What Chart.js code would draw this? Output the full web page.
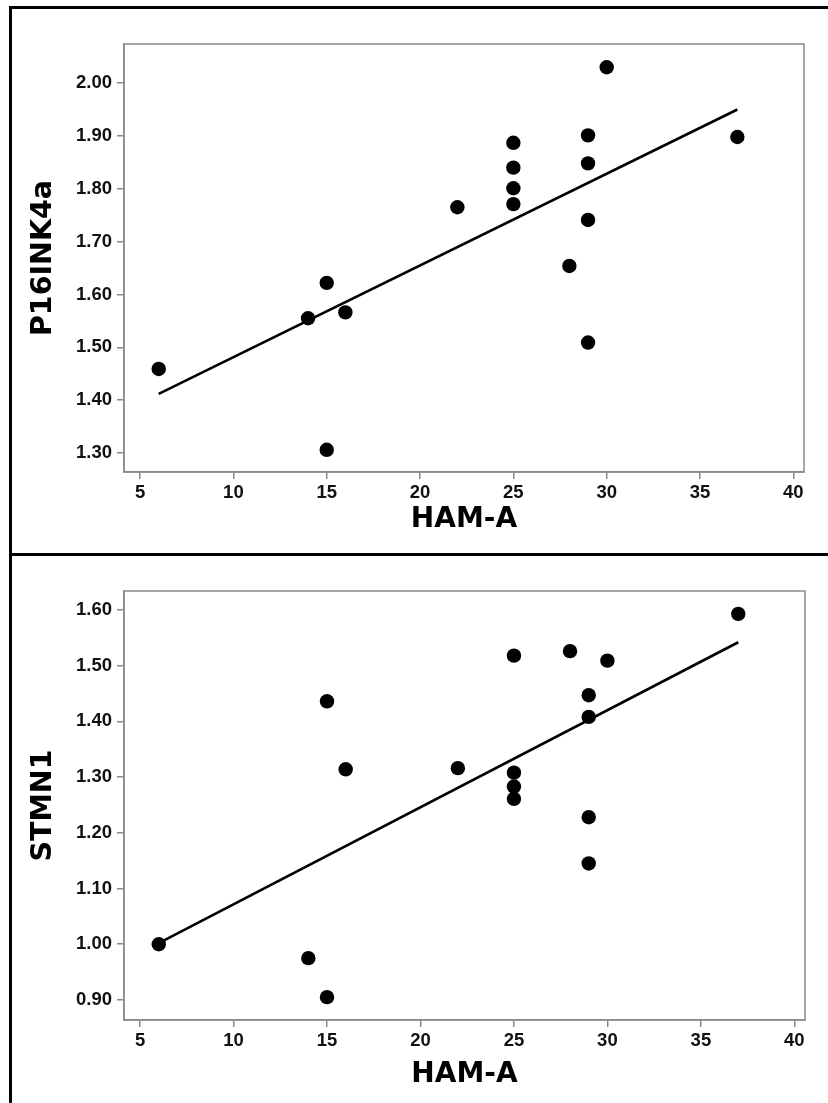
<!DOCTYPE html>
<html><head><meta charset="utf-8">
<script src="https://cdn.jsdelivr.net/npm/chart.js@4.4.1/dist/chart.umd.min.js"></script>
<style>
html,body{margin:0;padding:0;background:#fff;}
body{width:828px;height:1103px;position:relative;overflow:hidden;}
canvas.panel{position:absolute;left:0;}
.rule{position:absolute;background:#000;}
</style></head><body>
<canvas id="c1" class="panel" width="828" height="554" style="top:0px"></canvas>
<canvas id="c2" class="panel" width="828" height="549" style="top:554px"></canvas>
<div class="rule" style="left:9px;top:6px;width:819px;height:3px"></div>
<div class="rule" style="left:9px;top:6px;width:3px;height:1097px"></div>
<div class="rule" style="left:9px;top:553px;width:819px;height:3px"></div>
<script>
// ---- data ----
const hamA  = [6, 14, 15, 15, 16, 22, 25, 25, 25, 25, 28, 29, 29, 29, 29, 30, 37];
const p16   = [1.459, 1.555, 1.622, 1.306, 1.566, 1.765, 1.887, 1.840, 1.801, 1.771, 1.654, 1.901, 1.848, 1.741, 1.509, 2.030, 1.898];
const stmn1 = [1.000, 0.975, 0.905, 1.436, 1.314, 1.316, 1.518, 1.308, 1.283, 1.261, 1.526, 1.447, 1.408, 1.228, 1.145, 1.509, 1.593];
const fitX      = [6, 37];
const fitP16    = [1.412, 1.950];
const fitStmn1  = [1.002, 1.542];
const xTicks     = [5, 10, 15, 20, 25, 30, 35, 40];
const yTicksP16  = [1.30, 1.40, 1.50, 1.60, 1.70, 1.80, 1.90, 2.00];
const yTicksSTMN = [0.90, 1.00, 1.10, 1.20, 1.30, 1.40, 1.50, 1.60];
const xTitle = 'HAM-A';
const yTitleTop = 'P16INK4a';
const yTitleBottom = 'STMN1';

const boxPlugin = {
  id: 'plotBox',
  beforeDatasetsDraw(chart) {
    const a = chart.chartArea, ctx = chart.ctx;
    ctx.save();
    ctx.strokeStyle = '#8a8a8a';
    ctx.lineWidth = 1.5;
    ctx.strokeRect(a.left, a.top, a.right - a.left, a.bottom - a.top);
    ctx.restore();
  }
};

function makeChart(id, yVals, fitY, yTicks, yMin, yMax, yTitle, g) {
  const pts = hamA.map((x, i) => ({x: x, y: yVals[i]}));
  const line = fitX.map((x, i) => ({x: x, y: fitY[i]}));
  return new Chart(document.getElementById(id), {
    type: 'scatter',
    data: {
      datasets: [
        {data: line, showLine: true, pointRadius: 0, borderColor: '#000', borderWidth: 2.6, fill: false},
        {data: pts, pointRadius: 7.2, pointBackgroundColor: '#000', pointBorderColor: '#000', pointBorderWidth: 0}
      ]
    },
    options: {
      responsive: false,
      devicePixelRatio: 1,
      animation: false,
      layout: {padding: {left: 0, top: g.top, right: g.right, bottom: 0}},
      plugins: {legend: {display: false}, tooltip: {enabled: false}},
      scales: {
        x: {
          type: 'linear', min: 4.14, max: 40.57,
          afterBuildTicks: s => { s.ticks = xTicks.map(v => ({value: v})); },
          afterFit: s => { s.height = g.xh; },
          grid: {drawOnChartArea: false, drawTicks: true, tickLength: 7, color: '#8a8a8a', lineWidth: 1.5},
          border: {display: true, color: '#8a8a8a', width: 1.5},
          ticks: {color: '#111', padding: 3, font: {family: 'Liberation Sans', weight: 'bold', size: 18.5}},
          title: {display: true, text: xTitle, color: '#000', padding: {top: 0, bottom: g.xtp},
                  font: {family: 'DejaVu Sans', weight: 'bold', size: 28, lineHeight: 1}}
        },
        y: {
          type: 'linear', min: yMin, max: yMax,
          afterBuildTicks: s => { s.ticks = yTicks.map(v => ({value: v})); },
          afterFit: s => { s.width = 124; },
          grid: {drawOnChartArea: false, drawTicks: true, tickLength: 7, color: '#8a8a8a', lineWidth: 1.5},
          border: {display: true, color: '#8a8a8a', width: 1.5},
          ticks: {color: '#111', padding: 5, font: {family: 'Liberation Sans', weight: 'bold', size: 18.5},
                  callback: v => Number(v).toFixed(2)},
          title: {display: true, text: yTitle, color: '#000', padding: {top: 29, bottom: 0},
                  font: {family: 'DejaVu Sans', weight: 'bold', size: 28.5, lineHeight: 1}}
        }
      }
    },
    plugins: [boxPlugin]
  });
}

makeChart('c1', p16, fitP16, yTicksP16, 1.264, 2.074, yTitleTop, {top: 44, right: 24, xh: 82, xtp: 20});
makeChart('c2', stmn1, fitStmn1, yTicksSTMN, 0.864, 1.634, yTitleBottom, {top: 37, right: 23, xh: 83, xtp: 14});
</script>
</body></html>
